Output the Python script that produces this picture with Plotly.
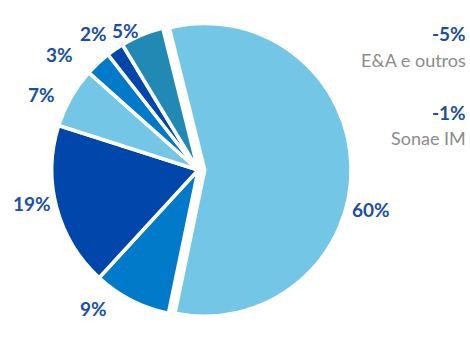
import math
import plotly.graph_objects as go

# Data
segments = ["Grupo A", "Grupo B", "Grupo C", "Grupo D", "Grupo E", "Sonae IM", "E&A e outros"]
values = [60, 9, 19, 7, 3, 2, 5]
labels_txt = ["60%", "9%", "19%", "7%", "3%", "2%", "5%"]
colors = ["#73C6E6", "#007AC9", "#0046AB", "#73C6E6", "#007AC9", "#0046AB", "#2189B4"]

side_values = ["-5%", "-1%"]
side_names = ["E&A e outros", "Sonae IM"]

# Style / layout constants
pulls = [0.045, 0, 0, 0, 0, 0, 0]
label_nudge_deg = [15, 10, 3, -4, -7, -3, -5]
label_extra_px = [2, 9, 0, 10, 16, 7, -8]
W, H = 470, 347
cx, cy, r = 199, 170, 147
rotation = -14
half = r * (1 + max(pulls))

fig = go.Figure(go.Pie(
    labels=segments,
    values=values,
    textinfo="none",
    sort=False,
    direction="clockwise",
    rotation=rotation,
    pull=pulls,
    marker=dict(colors=colors, line=dict(color="white", width=3.5)),
    domain=dict(x=[(cx - half) / W, (cx + half) / W], y=[1 - (cy + half) / H, 1 - (cy - half) / H]),
    showlegend=False,
    hoverinfo="skip",
))

# Slice labels placed just outside each slice, derived from the values
r_vis = r * 0.965
anns = []
total = sum(values)
cum = 0
for v, t, p, nd, ex in zip(values, labels_txt, pulls, label_nudge_deg, label_extra_px):
    mid = rotation + (cum + v / 2) / total * 360
    cum += v
    a = math.radians(mid)
    pcx = cx + r_vis * p * math.sin(a)
    pcy = cy - r_vis * p * math.cos(a)
    b = math.radians(mid + nd)
    s, c = math.sin(b), math.cos(b)
    R = r_vis + 12 + ex
    px = pcx + R * s
    py = pcy - R * c
    w = 11 * len(t)
    h = 22
    anns.append(dict(
        x=px / W, y=1 - py / H, xref="paper", yref="paper",
        xanchor="center", yanchor="middle",
        xshift=s * w / 2, yshift=c * h / 2,
        text="<b>%s</b>" % t, showarrow=False,
        font=dict(family="Lato", size=19, color="#1A4FA8"),
    ))

ys = [[33, 60], [112, 138]]
for i in range(2):
    anns.append(dict(x=1, y=1 - ys[i][0] / H, xref="paper", yref="paper", xanchor="right", yanchor="middle",
                     text="<b>%s</b>" % side_values[i], showarrow=False,
                     font=dict(family="Lato", size=19, color="#1A4FA8")))
    anns.append(dict(x=1, y=1 - ys[i][1] / H, xref="paper", yref="paper", xanchor="right", yanchor="middle",
                     text=side_names[i], showarrow=False,
                     font=dict(family="Lato", size=18, color="#8C8C8C")))

fig.update_layout(
    width=W, height=H,
    margin=dict(l=0, r=2, t=0, b=0),
    paper_bgcolor="white", plot_bgcolor="white",
    annotations=anns,
)

fig.write_html("out.html")
